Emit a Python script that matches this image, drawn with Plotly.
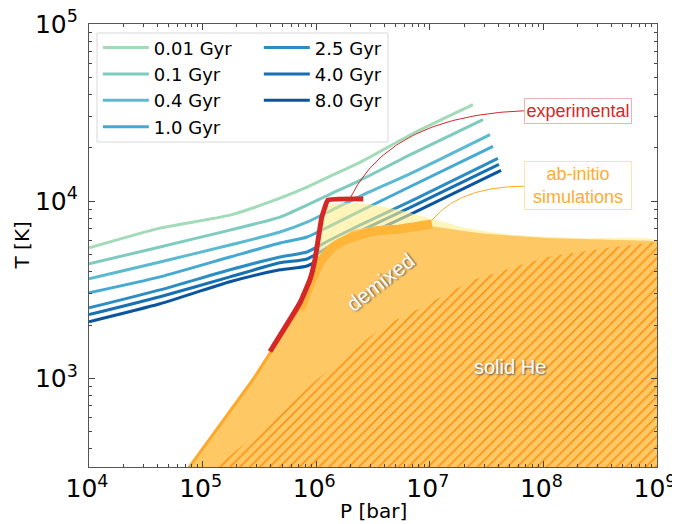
import numpy as np
import plotly.graph_objects as go

# ---------------- data ----------------
ages = ["0.01 Gyr", "0.1 Gyr", "0.4 Gyr", "1.0 Gyr", "2.5 Gyr", "4.0 Gyr", "8.0 Gyr"]
age_colors = ["#a2dbb7", "#7fcbc0", "#5bbad0", "#44a9d3", "#2b8dc3", "#1770b2", "#0b55a0"]

# pressure grid shared by the isochrones (bar), last point differs per curve
P_grid = [1e4, 4.22e4, 1.74e5, 4.80e5, 8.30e5, 1.32e6, 2.43e6, 7.11e6]
P_end = [2.40e7, 2.94e7, 3.39e7, 3.60e7, 3.98e7, 4.06e7, 4.24e7]

T_0p01 = [5450, 7050, 8340, 10400, 11990, 13810, 16560, 24100, 35070]
T_0p1 = [4430, 5520, 6870, 8130, 9500, 10940, 13120, 18620, 28900]
T_0p4 = [3650, 4540, 5660, 6700, 7620, 8790, 10660, 14550, 23780]
T_1p0 = [3040, 3740, 4840, 5810, 6280, 7240, 8790, 12300, 20370]
T_2p5 = [2500, 3160, 4100, 4840, 5170, 6040, 7330, 10130, 17450]
T_4p0 = [2290, 2890, 3740, 4490, 4720, 5590, 6780, 9370, 16140]
T_8p0 = [2090, 2640, 3510, 4100, 4310, 5040, 6200, 8560, 14930]
T_iso = [T_0p01, T_0p1, T_0p4, T_1p0, T_2p5, T_4p0, T_8p0]

# experimental demixing boundary
P_exp = [3.92e5, 7.2e5, 8.8e5, 9.75e5, 1.12e6, 1.27e6, 2.6e6]
T_exp = [1418, 2673, 3597, 4670, 8130, 10150, 10300]

# pale yellow region (upper ab-initio estimate)
P_pale = [5.87e5, 7.96e5, 9.95e5, 1.12e6, 1.32e6, 2.58e6, 5.47e6, 1.0e7, 2.12e7, 5.4e7, 2.1e8, 1e9, 1e9, 7e5]
T_pale = [1766, 2965, 5310, 8340, 9620, 9740, 8890, 8020, 7050, 6440, 6190, 6040, 4000, 1800]

# demixed (light orange) region
P_dem = [7.2e4, 2.78e5, 7.2e5, 1.08e6, 1.41e6, 2.11e6, 4.2e6, 1.0e7, 2.77e7, 1.08e8, 1e9, 1e9]
T_dem = [300, 986, 2535, 4840, 5810, 6870, 7330, 7240, 6600, 6190, 5960, 300]

# ab-initio band (darker orange)
P_band = [7.2e5, 9.18e5, 1.12e6, 1.41e6, 1.99e6, 3.3e6, 5.47e6, 1.045e7]
T_band = [2443, 3597, 4670, 5520, 6190, 6780, 6970, 7430]
P_edge = [7.2e4, 2.78e5, 7.2e5]
T_edge = [300, 986, 2535]

# solid He region
P_sol = [1.2e5, 2.61e5, 1.02e6, 3.87e6, 7.7e6, 2.4e7, 1.08e8, 4.1e8, 1e9, 1e9]
T_sol = [300, 454, 986, 1960, 2443, 3597, 4840, 5520, 5890, 300]

# annotation anchors: (start, control, end) in (P, T)
exp_conn_P = [1.99e6, 4.47e6, 6.89e7]
exp_conn_T = [10400, 30400, 32400]
abi_conn_P = [1.045e7, 1.85e7, 6.75e7]
abi_conn_T = [7820, 12140, 12140]
exp_box = (2.02e8, 32400)
abi_box = (2.02e8, 12220)
demixed_pos = (3.65e6, 3460)
solid_pos = (5.08e7, 1167)

FONT = "DejaVu Sans"
AFONT = "Liberation Sans"


def bezier(Ps, Ts, n=60):
    lx = np.log10(Ps)
    ly = np.log10(Ts)
    t = np.linspace(0, 1, n)
    bx = (1 - t) ** 2 * lx[0] + 2 * (1 - t) * t * lx[1] + t ** 2 * lx[2]
    by = (1 - t) ** 2 * ly[0] + 2 * (1 - t) * t * ly[1] + t ** 2 * ly[2]
    return 10 ** bx, 10 ** by


fig = go.Figure()

# isochrones
for i, (name, col, T) in enumerate(zip(ages, age_colors, T_iso)):
    P = P_grid + [P_end[i]]
    fig.add_trace(go.Scatter(
        x=P, y=T, mode="lines", name=name,
        line=dict(color=col, width=3, shape="spline", smoothing=0.6),
        legend="legend" if i < 4 else "legend2",
    ))

# pale yellow region
fig.add_trace(go.Scatter(x=P_pale, y=T_pale, fill="toself", mode="lines",
                         line=dict(width=0, shape="spline", smoothing=0.4),
                         fillcolor="rgba(255,238,140,0.6)", showlegend=False, hoverinfo="skip"))
# demixed region
fig.add_trace(go.Scatter(x=P_dem, y=T_dem, fill="toself", mode="lines",
                         line=dict(width=0), fillcolor="#fec964",
                         showlegend=False, hoverinfo="skip"))
# solid He hatched region
fig.add_trace(go.Scatter(x=P_sol, y=T_sol, fill="toself", mode="lines",
                         line=dict(width=0), fillcolor="#fec964",
                         fillpattern=dict(shape="/", fgcolor="#ff8400", bgcolor="#fec964",
                                          fgopacity=1, size=7, solidity=0.18),
                         showlegend=False, hoverinfo="skip"))
# ab-initio band
fig.add_trace(go.Scatter(x=P_edge, y=T_edge, mode="lines",
                         line=dict(color="#ffa82a", width=3),
                         showlegend=False, hoverinfo="skip"))
fig.add_trace(go.Scatter(x=P_band, y=T_band, mode="lines",
                         line=dict(color="#ffb43a", width=9, shape="spline", smoothing=0.6),
                         showlegend=False, hoverinfo="skip"))
# experimental line
fig.add_trace(go.Scatter(x=P_exp, y=T_exp, mode="lines",
                         line=dict(color="#d62728", width=5, shape="spline", smoothing=0.3),
                         showlegend=False, hoverinfo="skip"))

# connectors
cx, cy = bezier(exp_conn_P, exp_conn_T)
fig.add_trace(go.Scatter(x=cx, y=cy, mode="lines", line=dict(color="#d62728", width=1),
                         showlegend=False, hoverinfo="skip"))
cx, cy = bezier(abi_conn_P, abi_conn_T)
fig.add_trace(go.Scatter(x=cx, y=cy, mode="lines", line=dict(color="#ffa726", width=1),
                         showlegend=False, hoverinfo="skip"))

annos = [
    dict(x=np.log10(exp_box[0]), y=np.log10(exp_box[1]), text="experimental",
         font=dict(family=AFONT, size=18, color="#d62728"),
         bordercolor="#f2b0b0", borderwidth=1, borderpad=2, bgcolor="white", width=102),
    dict(x=np.log10(abi_box[0]), y=np.log10(abi_box[1]), text="ab-initio<br>simulations",
         font=dict(family=AFONT, size=18, color="#ffab30"),
         bordercolor="#ffe1b0", borderwidth=1, borderpad=2, bgcolor="white", width=102),
    dict(x=np.log10(demixed_pos[0]), y=np.log10(demixed_pos[1]), text="demixed",
         textangle=-38,
         font=dict(family=AFONT, size=21, color="white", shadow="1px 1px 2px #555")),
    dict(x=np.log10(solid_pos[0]), y=np.log10(solid_pos[1]), text="solid He",
         font=dict(family=AFONT, size=20, color="white", shadow="1px 1px 2px #555")),
]
for a in annos:
    a.update(xref="x", yref="y", showarrow=False)
    fig.add_annotation(**a)

# axis titles
fig.add_annotation(x=0.5, y=-0.099, xref="paper", yref="paper", text="P [bar]", showarrow=False,
                   xanchor="center", yanchor="middle", font=dict(family=FONT, size=20, color="black"))
fig.add_annotation(x=-0.118, y=0.5, xref="paper", yref="paper", text="T [K]", showarrow=False,
                   textangle=-90, xanchor="center", yanchor="middle",
                   font=dict(family=FONT, size=20, color="black"))

# legend box
fig.add_shape(type="rect", xref="paper", yref="paper", x0=0.0141, x1=0.5264, y0=0.7336, y1=0.9797,
              line=dict(color="#d8d8d8", width=1), fillcolor="rgba(255,255,255,0.8)", layer="above")

axis_common = dict(
    type="log", dtick=1, exponentformat="power", showgrid=False, zeroline=False,
    ticks="inside", ticklen=6, tickwidth=1, tickcolor="#444",
    showline=True, linecolor="#555", linewidth=1.2, mirror="ticks",
    tickfont=dict(family=FONT, size=20, color="black"),
    minor=dict(ticks="inside", ticklen=3, tickcolor="#444", showgrid=False),
    automargin=False, ticklabeloverflow="allow",
)

leg_common = dict(yanchor="top", xanchor="left", bgcolor="rgba(0,0,0,0)",
                  font=dict(family=FONT, size=18), borderwidth=0, itemwidth=46,
                  tracegroupgap=0)

# the page adds an 8 px body margin, so the figure is 8 px smaller and shifted
fig.update_layout(
    width=672, height=516,
    margin=dict(l=81, r=23, t=16, b=57, autoexpand=False),
    paper_bgcolor="white", plot_bgcolor="white",
    font=dict(family=FONT, color="black"),
    xaxis=dict(range=[4, 9], ticklabelshift=-2, **axis_common),
    yaxis=dict(range=[2.5, 5], ticklabelstandoff=6, **axis_common),
    legend=dict(x=0.0156, y=0.988, **leg_common),
    legend2=dict(x=0.299, y=0.988, **leg_common),
    showlegend=True,
)

fig.write_html("out.html")
